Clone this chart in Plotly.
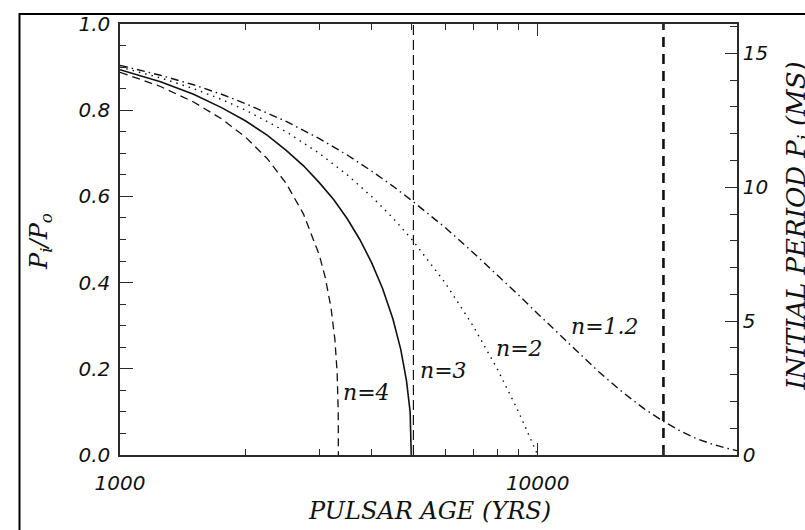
import math
import plotly.graph_objects as go

# ---------------- data ----------------
ages_n4 = [1000, 1250, 1500, 1750, 2000, 2250, 2500, 2750, 3000, 3100, 3200, 3270, 3310, 3330, 3333]
ratio_n4 = [0.888, 0.855, 0.819, 0.780, 0.737, 0.688, 0.630, 0.559, 0.464, 0.412, 0.342, 0.267, 0.191, 0.100, 0.0]

ages_n3 = [1000, 1250, 1500, 1750, 2000, 2250, 2500, 2750, 3000, 3250, 3500, 3750, 4000, 4250, 4500, 4700, 4850, 4950, 4980]
ratio_n3 = [0.894, 0.866, 0.837, 0.806, 0.775, 0.742, 0.707, 0.671, 0.632, 0.592, 0.548, 0.500, 0.447, 0.387, 0.316, 0.245, 0.173, 0.100, 0.0]

ages_n2 = [1000, 1250, 1500, 1750, 2000, 2500, 3000, 3500, 4000, 4500, 5000, 6000, 7000, 8000, 9000, 9500, 10000]
ratio_n2 = [0.900, 0.875, 0.850, 0.825, 0.800, 0.750, 0.700, 0.650, 0.600, 0.550, 0.500, 0.400, 0.300, 0.200, 0.100, 0.050, 0.0]

ages_n12 = [1000, 1250, 1500, 1750, 2000, 2500, 3000, 3500, 4000, 4500, 5000, 6000, 7000, 8000, 9000,
            10000, 12000, 14000, 16000, 18000, 20000, 22000, 24000, 26000, 28000, 30000]
ratio_n12 = [0.904, 0.881, 0.859, 0.837, 0.815, 0.774, 0.734, 0.696, 0.659, 0.624, 0.590, 0.528, 0.470, 0.418, 0.371,
             0.328, 0.254, 0.193, 0.145, 0.107, 0.078, 0.055, 0.038, 0.026, 0.017, 0.010]

vline_ages = [5040, 20000]

x_tick_vals = [1000, 10000]
x_tick_text = ["1000", "10000"]
x_minor_vals = [2000, 3000, 4000, 5000, 6000, 7000, 8000, 9000, 20000, 30000]
y_tick_vals = [0.0, 0.2, 0.4, 0.6, 0.8, 1.0]
y_tick_text = ["0.0", "0.2", "0.4", "0.6", "0.8", "1.0"]
y2_tick_vals = [0, 5, 10, 15]
age_range = [1000, 30000]
period_range = [0, 16.1]

labels = ["n=4", "n=3", "n=2", "n=1.2"]
label_ages = [3900, 5960, 9060, 14500]
label_ratio = [0.145, 0.196, 0.248, 0.297]

# ---------------- figure ----------------
INK = "#111111"
AX = "#2a2a2a"
sans_it = dict(family="DejaVu Sans", size=20, color=INK, style="italic")
serif_it = dict(family="DejaVu Serif", size=22, color=INK, style="italic")

fig = go.Figure()

fig.add_trace(go.Scatter(x=ages_n4, y=ratio_n4, mode="lines",
                         line=dict(color=INK, width=1.3, dash="8px,5px"), showlegend=False))
fig.add_trace(go.Scatter(x=ages_n3, y=ratio_n3, mode="lines",
                         line=dict(color=INK, width=1.6), showlegend=False))
fig.add_trace(go.Scatter(x=ages_n2, y=ratio_n2, mode="lines",
                         line=dict(color=INK, width=1.4, dash="1.5px,5px"), showlegend=False))
fig.add_trace(go.Scatter(x=ages_n12, y=ratio_n12, mode="lines",
                         line=dict(color=INK, width=1.4, dash="8px,4px,1.5px,4px"), showlegend=False))

fig.add_trace(go.Scatter(x=[vline_ages[0], vline_ages[0]], y=[0, 1], mode="lines",
                         line=dict(color=INK, width=1.2, dash="10px,5px"), showlegend=False))
fig.add_trace(go.Scatter(x=[vline_ages[1], vline_ages[1]], y=[0, 1], mode="lines",
                         line=dict(color=INK, width=2.6, dash="10px,7px"), showlegend=False))

# invisible trace to hold the top / right axes
fig.add_trace(go.Scatter(x=age_range, y=period_range, xaxis="x2", yaxis="y2", mode="lines",
                         line=dict(width=0), opacity=0, hoverinfo="skip", showlegend=False))

xr = [math.log10(age_range[0]), math.log10(age_range[1])]
common_x = dict(type="log", range=xr, showgrid=False, zeroline=False, showline=True,
                linecolor=AX, linewidth=1.5, ticks="inside", ticklen=12, tickwidth=1.3,
                tickcolor=AX, tickvals=x_tick_vals,
                minor=dict(ticks="inside", ticklen=6, tickwidth=1.1, tickcolor=AX,
                           tickvals=x_minor_vals, showgrid=False))

fig.update_layout(
    width=805, height=530,
    margin=dict(l=120, r=68, t=20, b=75),
    paper_bgcolor="white", plot_bgcolor="white",
    xaxis=dict(**common_x, ticktext=x_tick_text, tickfont=sans_it, ticklabelstandoff=9, anchor="y"),
    xaxis2=dict(**common_x, overlaying="x", side="top", showticklabels=False, anchor="y"),
    yaxis=dict(range=[0, 1], showgrid=False, zeroline=False, showline=True, linecolor=AX,
               linewidth=1.5, ticks="inside", ticklen=13, tickwidth=1.3, tickcolor=AX,
               tickvals=y_tick_vals, ticktext=y_tick_text, tickfont=sans_it, ticklabelstandoff=4,
               minor=dict(ticks="inside", ticklen=6, tickwidth=1.1, tickcolor=AX, dtick=0.05,
                          showgrid=False),
               anchor="x"),
    yaxis2=dict(range=period_range, overlaying="y", side="right", anchor="x",
                showgrid=False, zeroline=False, showline=True, linecolor=AX, linewidth=1.5,
                ticks="inside", ticklen=12, tickwidth=1.3, tickcolor=AX,
                tickvals=y2_tick_vals, tickfont=sans_it,
                minor=dict(ticks="inside", ticklen=7, tickwidth=1.1, tickcolor=AX, dtick=1,
                           showgrid=False)),
)

for txt, a, r in zip(labels, label_ages, label_ratio):
    fig.add_annotation(x=math.log10(a), y=r, xref="x", yref="y", text=txt, showarrow=False,
                       font=serif_it, xanchor="center", yanchor="middle")

fig.add_annotation(x=(429 - 120) / 617, y=(455 - 512) / 435, xref="paper", yref="paper",
                   text="PULSAR AGE (YRS)", showarrow=False,
                   font=dict(family="DejaVu Serif", size=24, color=INK, style="italic"),
                   xanchor="center", yanchor="middle")
fig.add_annotation(x=(41 - 120) / 617, y=(455 - 240) / 435, xref="paper", yref="paper",
                   text="P<sub>i</sub>/P<sub>o</sub>", textangle=-90, showarrow=False,
                   font=dict(family="DejaVu Serif", size=24, color=INK, style="italic"),
                   xanchor="center", yanchor="middle")
fig.add_annotation(x=(779 - 120) / 617, y=(455 - 224) / 435, xref="paper", yref="paper",
                   text="INITIAL PERIOD P<sub>i</sub> (MS)", textangle=-90, showarrow=False,
                   font=dict(family="DejaVu Serif", size=26, color=INK, style="italic"),
                   xanchor="left", yanchor="middle")

# outer frame (cropped on right and bottom)
fig.add_shape(type="rect", xref="paper", yref="paper",
              x0=(19.5 - 120) / 617, x1=1.3, y0=-0.4, y1=(455 - 10) / 435,
              line=dict(color="black", width=2), layer="above")

fig.write_html("out.html", config={"displayModeBar": False},
               post_script="document.body.style.margin='0';")
